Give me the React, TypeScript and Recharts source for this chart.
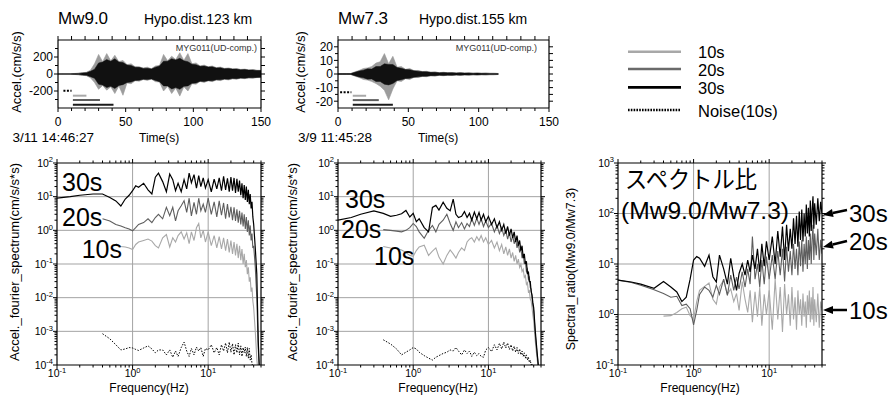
import React from 'react';
import { ComposedChart, LineChart, Line, Area, XAxis, YAxis, ReferenceLine } from 'recharts';

const FONT = '"Liberation Sans", Arial, sans-serif';
const JP = '"Noto Sans CJK JP", "Noto Sans CJK SC", sans-serif';

const C30 = '#000000';
const C20 = '#5e5e5e';
const C10 = '#a8a8a8';
const GRID = '#a3a3a3';

// ---------- waveforms (envelope per 3 s bin) ----------
const T_MW90 = [0,3,6,9,12,15,18,21,24,27,30,33,36,39,42,45,48,51,54,57,60,63,66,69,72,75,78,81,84,87,90,93,96,99,102,105,108,111,114,117,120,123,126,129,132,135,138,141,144,147,150];
const CORE_HI_MW90 = [3,3,3,3,5,7,13,16,32,55,130,140,170,150,180,140,135,105,100,80,78,66,68,60,80,95,150,150,180,165,185,155,145,115,110,90,94,82,84,72,73,63,65,58,58,50,52,46,47,41,40];
const CORE_LO_MW90 = [-3,-3,-3,-3,-5,-7,-13,-16,-32,-50,-120,-130,-160,-145,-170,-135,-125,-100,-95,-75,-73,-62,-65,-58,-75,-90,-140,-140,-175,-160,-180,-145,-140,-110,-105,-85,-88,-78,-80,-68,-68,-60,-62,-54,-55,-48,-50,-44,-44,-40,-38];
const PEAK_HI_MW90 = [3,3,3,3,6,9,15,20,45,120,230,145,240,155,220,145,160,110,120,85,85,70,80,62,95,100,230,155,210,170,250,160,240,120,130,95,105,85,95,75,82,66,72,60,64,54,58,48,52,44,44];
const PEAK_LO_MW90 = [-3,-3,-3,-3,-6,-9,-15,-20,-45,-100,-180,-135,-190,-150,-230,-140,-250,-105,-115,-80,-85,-65,-75,-60,-90,-95,-200,-145,-230,-165,-260,-150,-200,-115,-120,-88,-100,-80,-90,-70,-78,-62,-70,-56,-62,-50,-55,-46,-50,-42,-42];

const T_MW73 = [0,3,6,9,12,15,18,21,24,27,30,33,36,39,42,45,48,51,54,57,60,63,66,69,72,75,78,81,84,87,90,93,96,99,102,105,108,111,114];
const CORE_HI_MW73 = [0.3,0.3,0.3,0.3,1.2,2.2,2.8,3.8,3.6,5.5,5.5,7.5,7,7,4.8,4.2,3.3,3.2,2.3,2.1,1.7,1.6,1.2,1.3,0.9,1.05,0.85,0.95,0.75,0.85,0.65,0.75,0.55,0.65,0.5,0.55,0.45,0.45,0.35];
const CORE_LO_MW73 = [-0.3,-0.3,-0.3,-0.3,-1.2,-2.2,-2.8,-3.8,-3.6,-5.5,-5.5,-7.5,-8,-7,-4.8,-4.2,-3.3,-3.2,-2.3,-2.1,-1.7,-1.6,-1.2,-1.3,-0.9,-1.05,-0.85,-0.95,-0.75,-0.85,-0.65,-0.75,-0.55,-0.65,-0.5,-0.55,-0.45,-0.45,-0.35];
const PEAK_HI_MW73 = [0.3,0.3,0.3,0.3,1.6,2.6,4,4.5,5.5,8,9,15,7.5,13,5,5.5,3.5,4,2.5,2.6,1.8,2,1.3,1.5,1,1.3,0.9,1.1,0.8,1,0.7,0.9,0.6,0.8,0.55,0.7,0.5,0.5,0.4];
const PEAK_LO_MW73 = [-0.3,-0.3,-0.3,-0.3,-1.6,-2.6,-4,-4.5,-5.5,-7,-9,-12,-19,-11,-5,-5.5,-3.5,-4,-2.5,-2.6,-1.8,-2,-1.3,-1.5,-1,-1.3,-0.9,-1.1,-0.8,-1,-0.7,-0.9,-0.6,-0.8,-0.55,-0.7,-0.5,-0.5,-0.4];

// analysis windows (s)
const WINDOWS_MW90 = [
  { name: 'Noise(10s)', start: 4, end: 10 },
  { name: '10s', start: 11, end: 21 },
  { name: '20s', start: 11, end: 31 },
  { name: '30s', start: 11, end: 41 },
];
const WINDOWS_MW73 = [
  { name: 'Noise(10s)', start: 1.5, end: 9.5 },
  { name: '10s', start: 10.5, end: 20 },
  { name: '20s', start: 10.5, end: 29 },
  { name: '30s', start: 10.5, end: 39 },
];

const T_TICKS = [0,10,20,30,40,50,60,70,80,90,100,110,120,130,140,150];
const T_LABELS = [0, 50, 100, 150];
const Y_TICKS_MW90 = [-300,-200,-100,0,100,200,300];
const Y_LABELS_MW90 = [-200, 0, 200];
const Y_TICKS_MW73 = [-20,-15,-10,-5,0,5,10,15,20];
const Y_LABELS_MW73 = [-20, -10, 0, 10, 20];

// ---------- Fourier spectra ----------
const FREQ = [
  0.1,0.15,0.2,0.3,0.4,0.5,0.6,0.7,0.8,0.9,
  1,1.1,1.2,1.4,1.6,1.8,
  2,2.2,2.5,2.8,3.1,3.4,3.7,
  4,4.4,4.8,5.2,5.6,
  6,6.5,7,7.5,8,8.6,9.2,
  10,11,12,13,14,15,16,17,18,19,
  20,21,22,23,24,25,26,27,28,29,
  30,31,32,33,34,35,36,37,38,39,40,
  42,44,46,48,50,
];

const MW90_30S = [
  9,10,11,12,12,9.5,7.5,5.3,8.5,11,
  15,21,19,25,16,12,
  38,50,28,14,47,32,15,
  25,14,32,17,50,
  26,45,18,42,20,36,18,
  32,14,33,17,36,15,40,16,35,14,
  38,15,36,13,34,14,30,11,25,9,
  22,8,20,7,16,6,12,4.5,7,2.5,1.5,
  0.3,0.05,5e-4,5e-5,5e-5,
];
const MW90_20S = [
  null,null,null,null,2.2,1.9,1.5,1.35,1.2,1.1,
  0.97,1.2,1.5,1.7,2.2,1.7,
  2.4,3.0,2.2,4.8,2.7,4.8,1.9,
  3.8,5.4,7.6,3.4,9,
  2.7,6.8,3.0,9,3.8,6,3.4,
  9,3,7,2.5,7.5,2.8,6.5,2.2,6,2.4,
  5,2,4.8,1.9,4.2,1.7,3.8,1.5,3.4,1.3,
  3,1.1,2.5,0.9,2,0.7,1.4,0.5,0.8,0.3,0.35,
  0.08,0.01,3e-4,5e-5,5e-5,
];
const MW90_10S = [
  null,null,null,null,null,null,0.4,0.33,0.32,0.3,
  0.27,0.38,0.45,0.5,0.55,0.48,
  0.35,0.3,0.6,0.75,0.32,0.6,0.45,
  0.7,0.9,0.55,0.85,0.4,
  0.9,0.5,1.2,1.6,0.6,1.0,0.45,
  0.9,0.35,0.7,0.3,0.65,0.28,0.6,0.25,0.55,0.22,
  0.5,0.2,0.45,0.18,0.4,0.15,0.35,0.13,0.28,0.1,
  0.2,0.08,0.13,0.05,0.08,0.03,0.04,0.015,0.02,0.008,0.005,
  0.001,1.5e-4,5e-5,5e-5,5e-5,
];
const MW90_NOISE = [
  null,null,null,null,8.5e-4,6e-4,4e-4,2.8e-4,3e-4,3.3e-4,
  3.2e-4,2.9e-4,2.7e-4,3.2e-4,3.7e-4,3e-4,
  2.3e-4,2.8e-4,2.8e-4,2e-4,2.8e-4,1.7e-4,2.6e-4,
  1.8e-4,3.3e-4,4.8e-4,2.6e-4,1.8e-4,
  3.1e-4,2e-4,3.4e-4,2.6e-4,3.3e-4,1.8e-4,3.1e-4,
  2.8e-4,4e-4,2.3e-4,3.3e-4,2e-4,4e-4,2.6e-4,4.5e-4,2.3e-4,4.8e-4,
  2.4e-4,4.3e-4,2e-4,4e-4,2.3e-4,4.5e-4,2e-4,3.7e-4,1.8e-4,3.3e-4,
  2.3e-4,3.4e-4,1.8e-4,3.3e-4,1.6e-4,3.1e-4,1.4e-4,2e-4,1.1e-4,9e-5,null,
  null,null,null,null,null,
];

const MW73_30S = [
  2.0,2.4,3.0,3.8,3.2,2.6,2.8,3.1,3.9,2.5,
  3.2,1.8,2.2,1.2,0.9,4.8,
  5.5,4.0,6.8,4.5,3.8,8.5,3.0,
  2.4,2.6,3.6,2.4,3.2,
  2.0,3.5,2.2,3.4,2.0,3.0,1.8,
  2.6,1.5,2.2,1.2,1.8,1.0,1.5,0.8,1.3,0.7,
  1.1,0.6,0.9,0.45,0.7,0.35,0.5,0.25,0.35,0.15,
  0.2,0.1,0.12,0.05,0.06,0.03,0.03,0.015,0.012,0.007,0.005,
  0.001,3e-4,1e-4,5e-5,5e-5,
];
const MW73_20S = [
  null,null,null,null,1.05,1.0,0.95,0.9,1.0,1.2,
  1.6,1.3,0.9,0.58,1.0,1.4,
  0.9,1.5,2.0,3.0,1.6,1.0,1.8,
  1.2,1.7,1.1,1.6,1.3,
  2.2,1.4,2.3,1.5,2.2,1.3,1.9,
  1.2,1.6,0.9,1.4,0.8,1.2,0.7,1.0,0.55,0.85,
  0.45,0.7,0.4,0.55,0.3,0.42,0.22,0.3,0.15,0.2,
  0.1,0.12,0.06,0.07,0.035,0.04,0.02,0.018,0.01,0.006,0.004,
  8e-4,2.5e-4,1e-4,5e-5,5e-5,
];
const MW73_10S = [
  null,null,null,null,0.33,0.3,0.29,0.26,0.22,0.18,
  0.17,0.25,0.32,0.36,0.18,0.24,
  0.3,0.16,0.1,0.18,0.26,0.2,0.15,
  0.22,0.3,0.25,0.45,0.55,
  0.6,0.45,0.65,0.5,0.7,0.45,0.6,
  0.38,0.5,0.3,0.45,0.25,0.38,0.2,0.32,0.18,0.28,
  0.15,0.22,0.12,0.18,0.1,0.14,0.08,0.1,0.06,0.07,
  0.04,0.045,0.025,0.028,0.015,0.016,0.009,0.008,0.005,0.003,0.002,
  5e-4,1.8e-4,8e-5,5e-5,5e-5,
];
const MW73_NOISE = [
  null,null,null,null,5.6e-4,4.2e-4,3e-4,2e-4,2.4e-4,2.8e-4,
  3.3e-4,3e-4,2.4e-4,1.9e-4,1.6e-4,1.4e-4,
  1.7e-4,1.9e-4,2.2e-4,2.4e-4,2.8e-4,2.6e-4,3.3e-4,
  2.6e-4,2e-4,2.8e-4,2.2e-4,2.6e-4,
  1.8e-4,2.4e-4,1.9e-4,2.2e-4,1.8e-4,1.7e-4,2.8e-4,
  3.3e-4,2.5e-4,4e-4,2.8e-4,4.4e-4,3e-4,4.8e-4,3.2e-4,4.5e-4,2.9e-4,
  4e-4,2.6e-4,3.6e-4,2.4e-4,3.3e-4,2.2e-4,3e-4,2e-4,2.6e-4,1.8e-4,
  2.3e-4,1.6e-4,2e-4,1.4e-4,1.7e-4,1.2e-4,1.4e-4,1e-4,1.1e-4,9e-5,9e-5,
  null,null,null,null,null,
];

// ---------- spectral ratio Mw9.0 / Mw7.3 ----------
const RATIO_30S = [
  4.8,4.4,4.0,3.3,4.5,3.5,2.8,1.8,2.2,5,
  12,14,13,9,15,5.6,
  4.4,15,8,4,13,5.6,3.0,
  6.5,10,6,12,7,
  15,8,20,7,25,9,28,
  12,35,10,45,14,55,12,60,18,50,
  20,80,25,90,22,110,30,120,28,100,
  35,150,40,130,35,180,45,120,220,50,160,
  60,200,70,170,100,
];
const RATIO_20S = [
  4.8,4.3,3.8,3.1,2.6,2.2,2.3,1.5,1.6,1.3,
  0.62,1.2,2.5,3.5,3.0,2.2,
  3.8,2.5,5.0,2.4,6.0,3.0,5.5,
  3.2,7,3.5,8,4,
  35,5,10,3.5,12,4,14,
  5,15,5,18,6,20,4.5,22,7,18,
  6,25,8,20,6,28,9,30,7,25,
  10,35,8,30,12,40,10,30,60,12,40,
  15,50,12,30,16,
];
const RATIO_10S = [
  null,null,null,null,0.93,0.95,1.1,1.3,1.4,0.95,
  0.8,1.8,3.0,3.6,4.2,2.0,
  1.6,3.5,4.8,2.5,3.2,1.8,2.6,
  1.2,4.5,2.0,1.1,3.0,
  0.7,2.8,0.9,3.5,0.6,2.5,1.0,
  3.0,0.5,5,0.8,3.5,0.45,4,1.0,2.5,0.6,
  3.5,0.8,2.2,0.5,3,1.0,2.0,0.6,2.6,0.9,
  1.8,0.55,2.4,1.0,3,0.7,2.2,0.8,3.5,0.6,2.0,
  0.7,2.6,0.55,1.8,1.2,
];

// ---------- helpers ----------
function logTicks(loExp: number, hiExp: number, max: number) {
  const out: number[] = [];
  for (let e = loExp; e <= hiExp; e++) {
    for (let m = 1; m < 10; m++) {
      const v = m * Math.pow(10, e);
      if (v <= max * 1.0001) out.push(v);
    }
  }
  return out;
}
const isDecade = (v: number) => Math.abs(Math.log10(v) - Math.round(Math.log10(v))) < 1e-6;

const F_TICKS = logTicks(-1, 1, 50);
const SPEC_TICKS = logTicks(-4, 2, 100);
const RATIO_TICKS = logTicks(-1, 3, 1000);

const powLabel = (v: number) => {
  const e = Math.round(Math.log10(v));
  return [
    <tspan key="b">10</tspan>,
    <tspan key="e" dy={-4.5} fontSize={7.5}>{String(e)}</tspan>,
  ];
};

type TickOpts = {
  major?: (v: number) => boolean;
  label?: (v: number) => any;
  long?: number;
  short?: number;
  gap?: number;
  fs?: number;
};

function AxisTick(props: any) {
  const { x, y, payload, side, opts } = props;
  const o: TickOpts = opts || {};
  const v = payload.value;
  const major = o.major ? o.major(v) : true;
  const long = o.long ?? 4;
  const len = major ? long : o.short ?? 2.5;
  const fs = o.fs ?? 11;
  const gap = o.gap ?? 1;
  const content = major && o.label ? o.label(v) : null;
  let x2 = x;
  let y2 = y;
  if (side === 'left') x2 = x - len;
  if (side === 'right') x2 = x + len;
  if (side === 'top') y2 = y - len;
  if (side === 'bottom') y2 = y + len;
  let text = null;
  if (content !== null) {
    if (side === 'left') {
      text = (
        <text x={x - long - gap} y={y + fs * 0.36} textAnchor="end" fontSize={fs} fontFamily={FONT} fill="#000">
          {content}
        </text>
      );
    } else if (side === 'bottom') {
      text = (
        <text x={x} y={y + long + gap + fs * 0.72} textAnchor="middle" fontSize={fs} fontFamily={FONT} fill="#000">
          {content}
        </text>
      );
    }
  }
  return (
    <g>
      <line x1={x} y1={y} x2={x2} y2={y2} stroke="#000" strokeWidth={1} />
      {text}
    </g>
  );
}

const tickFn = (side: string, opts: TickOpts) => (p: any) => <AxisTick {...p} side={side} opts={opts} />;

const AXIS_LINE = { stroke: '#000', strokeWidth: 1.2 };

// ---------- panels ----------
function WavePanel(props: any) {
  const { left, width, t, coreHi, coreLo, peakHi, peakLo, yDomain, yTicks, yLabels, windows, levels } = props;
  const rows = t.map((v: number, i: number) => ({
    t: v,
    core: [coreLo[i], coreHi[i]],
    peak: [peakLo[i], peakHi[i]],
  }));
  const winStyle = [
    { stroke: '#000', dash: '2 1.5' },
    { stroke: C10, dash: undefined },
    { stroke: C20, dash: undefined },
    { stroke: '#1a1a1a', dash: undefined },
  ];
  const xMajor = (v: number) => T_LABELS.includes(v);
  const yMajor = (v: number) => yLabels.includes(v);
  return (
    <div style={{ position: 'absolute', left, top: 30 }}>
      <ComposedChart width={width} height={103} data={rows} margin={{ top: 0, right: 0, bottom: 0, left: 0 }}>
        <XAxis dataKey="t" type="number" domain={[0, 150]} ticks={T_TICKS} interval={0} height={25}
          tickSize={0} tickMargin={0} tickLine={false} axisLine={AXIS_LINE}
          tick={tickFn('bottom', { major: xMajor, label: (v) => String(v), long: 4, short: 3, gap: 5, fs: 12 })} />
        <XAxis xAxisId="top" orientation="top" dataKey="t" type="number" domain={[0, 150]} ticks={T_TICKS} interval={0}
          height={10} tickSize={0} tickMargin={0} tickLine={false} axisLine={AXIS_LINE}
          tick={tickFn('top', { long: 4 })} />
        <YAxis type="number" domain={yDomain} ticks={yTicks} interval={0} width={45} allowDataOverflow
          tickSize={0} tickMargin={0} tickLine={false} axisLine={AXIS_LINE}
          tick={tickFn('left', { major: yMajor, label: (v) => String(v), long: 4, short: 3, gap: 1, fs: 12 })} />
        <YAxis yAxisId="right" orientation="right" type="number" domain={yDomain} ticks={yTicks} interval={0} width={10}
          allowDataOverflow tickSize={0} tickMargin={0} tickLine={false} axisLine={AXIS_LINE}
          tick={tickFn('right', { long: 4 })} />
        <Area dataKey="peak" type="linear" stroke="#999" strokeWidth={0.6} fill="#9c9c9c" fillOpacity={1}
          dot={false} activeDot={false} isAnimationActive={false} />
        <Area dataKey="core" type="linear" stroke="#111" strokeWidth={0.5} fill="#111" fillOpacity={1}
          dot={false} activeDot={false} isAnimationActive={false} />
        {windows.map((w: any, i: number) => (
          <ReferenceLine key={w.name} segment={[{ x: w.start, y: levels[i] }, { x: w.end, y: levels[i] }]}
            stroke={winStyle[i].stroke} strokeWidth={2} strokeDasharray={winStyle[i].dash} />
        ))}
      </ComposedChart>
    </div>
  );
}

function SpectrumPanel(props: any) {
  const { left, width, s30, s20, s10, noise, yDomain, yTicks, yGrid } = props;
  const rows = FREQ.map((f, i) => ({
    f,
    s30: s30[i],
    s20: s20[i],
    s10: s10[i],
    noise: noise ? noise[i] : null,
  }));
  return (
    <div style={{ position: 'absolute', left, top: 153 }}>
      <LineChart width={width} height={234} data={rows} margin={{ top: 0, right: 0, bottom: 0, left: 0 }}>
        <XAxis dataKey="f" type="number" scale="log" domain={[0.1, 50]} allowDataOverflow ticks={F_TICKS} interval={0}
          height={22} tickSize={0} tickMargin={0} tickLine={false} axisLine={AXIS_LINE}
          tick={tickFn('bottom', { major: isDecade, label: powLabel, long: 4, short: 2.5, gap: 0.5, fs: 10.5 })} />
        <XAxis xAxisId="top" orientation="top" dataKey="f" type="number" scale="log" domain={[0.1, 50]} allowDataOverflow
          ticks={F_TICKS} interval={0} height={10} tickSize={0} tickMargin={0} tickLine={false} axisLine={AXIS_LINE}
          tick={tickFn('top', { major: isDecade, long: 4, short: 2.5 })} />
        <YAxis type="number" scale="log" domain={yDomain} allowDataOverflow ticks={yTicks} interval={0} width={45}
          tickSize={0} tickMargin={0} tickLine={false} axisLine={AXIS_LINE}
          tick={tickFn('left', { major: isDecade, label: powLabel, long: 4, short: 2.5, gap: 0, fs: 10.5 })} />
        <YAxis yAxisId="right" orientation="right" type="number" scale="log" domain={yDomain} allowDataOverflow
          ticks={yTicks} interval={0} width={10} tickSize={0} tickMargin={0} tickLine={false} axisLine={AXIS_LINE}
          tick={tickFn('right', { major: isDecade, long: 4, short: 2.5 })} />
        {[1, 10].map((v) => <ReferenceLine key={'gx' + v} x={v} stroke={GRID} strokeWidth={1} />)}
        {yGrid.map((v: number) => <ReferenceLine key={'gy' + v} y={v} stroke={GRID} strokeWidth={1} />)}
        {noise ? (
          <Line dataKey="noise" stroke="#000" strokeWidth={1} strokeDasharray="1.5 1.5" dot={false}
            activeDot={false} isAnimationActive={false} />
        ) : null}
        <Line dataKey="s10" stroke={C10} strokeWidth={1.1} dot={false} activeDot={false} isAnimationActive={false} />
        <Line dataKey="s20" stroke={C20} strokeWidth={1.1} dot={false} activeDot={false} isAnimationActive={false} />
        <Line dataKey="s30" stroke={C30} strokeWidth={1.2} dot={false} activeDot={false} isAnimationActive={false} />
      </LineChart>
    </div>
  );
}

function Arrow({ x1, y1, x2, y2 }: { x1: number; y1: number; x2: number; y2: number }) {
  const a = Math.atan2(y2 - y1, x2 - x1);
  const L = 10;
  const W = 4;
  const bx = x2 - L * Math.cos(a);
  const by = y2 - L * Math.sin(a);
  const px = -Math.sin(a) * W;
  const py = Math.cos(a) * W;
  return (
    <g>
      <line x1={x1} y1={y1} x2={bx} y2={by} stroke="#000" strokeWidth={2.5} />
      <polygon points={`${x2},${y2} ${bx + px},${by + py} ${bx - px},${by - py}`} fill="#000" />
    </g>
  );
}

export default function App() {
  const t = { fontFamily: FONT, fill: '#000' };
  return (
    <div style={{ position: 'absolute', left: 0, top: 0, width: 896, height: 403, background: '#fff', overflow: 'hidden' }}>
      <WavePanel left={13} width={258} t={T_MW90} coreHi={CORE_HI_MW90} coreLo={CORE_LO_MW90}
        peakHi={PEAK_HI_MW90} peakLo={PEAK_LO_MW90} yDomain={[-400, 400]} yTicks={Y_TICKS_MW90}
        yLabels={Y_LABELS_MW90} windows={WINDOWS_MW90} levels={[-196, -255, -306, -361]} />
      <WavePanel left={293} width={266} t={T_MW73} coreHi={CORE_HI_MW73} coreLo={CORE_LO_MW73}
        peakHi={PEAK_HI_MW73} peakLo={PEAK_LO_MW73} yDomain={[-25, 25]} yTicks={Y_TICKS_MW73}
        yLabels={Y_LABELS_MW73} windows={WINDOWS_MW73} levels={[-13.4, -16, -19.2, -22.6]} />

      <SpectrumPanel left={12} width={259} s30={MW90_30S} s20={MW90_20S} s10={MW90_10S} noise={MW90_NOISE}
        yDomain={[1e-4, 100]} yTicks={SPEC_TICKS} yGrid={[1e-3, 1e-2, 0.1, 1, 10]} />
      <SpectrumPanel left={293} width={258} s30={MW73_30S} s20={MW73_20S} s10={MW73_10S} noise={MW73_NOISE}
        yDomain={[1e-4, 100]} yTicks={SPEC_TICKS} yGrid={[1e-3, 1e-2, 0.1, 1, 10]} />
      <SpectrumPanel left={573} width={259} s30={RATIO_30S} s20={RATIO_20S} s10={RATIO_10S}
        yDomain={[0.1, 1000]} yTicks={RATIO_TICKS} yGrid={[1, 10, 100]} />

      <svg width={896} height={403} style={{ position: 'absolute', left: 0, top: 0, pointerEvents: 'none' }}>
        {/* waveform headers */}
        <text x={58} y={23.5} fontSize={17} {...t}>Mw9.0</text>
        <text x={144} y={24} fontSize={14} {...t}>Hypo.dist.123 km</text>
        <text x={338} y={23.5} fontSize={17} {...t}>Mw7.3</text>
        <text x={419} y={24} fontSize={14} {...t}>Hypo.dist.155 km</text>
        <text x={257} y={51} fontSize={9} textAnchor="end" fontFamily={FONT} fill="#333">MYG011(UD-comp.)</text>
        <text x={537} y={51} fontSize={9} textAnchor="end" fontFamily={FONT} fill="#333">MYG011(UD-comp.)</text>
        <text transform="translate(16,72) rotate(-90)" textAnchor="middle" dy="0.35em" fontSize={13} {...t}>Accel.(cm/s/s)</text>
        <text transform="translate(300,72) rotate(-90)" textAnchor="middle" dy="0.35em" fontSize={13} {...t}>Accel.(cm/s/s)</text>
        <text x={12.5} y={141.5} fontSize={13.5} {...t}>3/11 14:46:27</text>
        <text x={298} y={141.5} fontSize={13.5} {...t}>3/9 11:45:28</text>
        <text x={139} y={141.5} fontSize={12} {...t}>Time(s)</text>
        <text x={418} y={141.5} fontSize={12} {...t}>Time(s)</text>

        {/* legend */}
        <line x1={628} x2={681} y1={51.7} y2={51.7} stroke={C10} strokeWidth={2.6} />
        <line x1={628} x2={681} y1={69} y2={69} stroke="#6a6a6a" strokeWidth={2.6} />
        <line x1={628} x2={681} y1={87.3} y2={87.3} stroke={C30} strokeWidth={2.8} />
        <line x1={628} x2={681} y1={110} y2={110} stroke="#000" strokeWidth={2.4} strokeDasharray="1.6 1.2" />
        <text x={698} y={58} fontSize={16.5} {...t}>10s</text>
        <text x={698} y={76} fontSize={16.5} {...t}>20s</text>
        <text x={698} y={94} fontSize={16.5} {...t}>30s</text>
        <text x={698} y={117} fontSize={16.5} {...t}>Noise(10s)</text>

        {/* spectrum axis titles */}
        <text transform="translate(14.5,262) rotate(-90)" textAnchor="middle" dy="0.35em" fontSize={13} {...t}>Accel._fourier_spectrum(cm/s/s*s)</text>
        <text transform="translate(292.5,262) rotate(-90)" textAnchor="middle" dy="0.35em" fontSize={13} {...t}>Accel._fourier_spectrum(cm/s/s*s)</text>
        <text transform="translate(571,269) rotate(-90)" textAnchor="middle" dy="0.35em" fontSize={12.5} {...t}>Spectral_ratio(Mw9.0/Mw7.3)</text>
        <text x={149} y={392} textAnchor="middle" fontSize={12} {...t}>Frequency(Hz)</text>
        <text x={438} y={392} textAnchor="middle" fontSize={12} {...t}>Frequency(Hz)</text>
        <text x={700} y={392} textAnchor="middle" fontSize={12} {...t}>Frequency(Hz)</text>

        {/* in-plot labels */}
        <text x={62} y={191} fontSize={25} {...t}>30s</text>
        <text x={62} y={226.3} fontSize={25} {...t}>20s</text>
        <text x={81.7} y={258} fontSize={25} {...t}>10s</text>
        <text x={345} y={208} fontSize={25} {...t}>30s</text>
        <text x={341} y={238} fontSize={25} {...t}>20s</text>
        <text x={374} y={264.7} fontSize={25} {...t}>10s</text>

        {/* ratio panel title and arrows */}
        <text x={625} y={187.5} fontSize={24} fontFamily={JP} fill="#000" textLength={132} lengthAdjust="spacingAndGlyphs">スペクトル比</text>
        <text x={621} y={219} fontSize={24} {...t} textLength={168} lengthAdjust="spacingAndGlyphs">(Mw9.0/Mw7.3)</text>
        <Arrow x1={847} y1={210} x2={823} y2={215} />
        <Arrow x1={847} y1={241} x2={823} y2={247} />
        <Arrow x1={847} y1={310} x2={823} y2={310} />
        <text x={849} y={222} fontSize={24} {...t}>30s</text>
        <text x={849} y={250} fontSize={24} {...t}>20s</text>
        <text x={849} y={318.5} fontSize={24} {...t}>10s</text>
      </svg>
    </div>
  );
}
